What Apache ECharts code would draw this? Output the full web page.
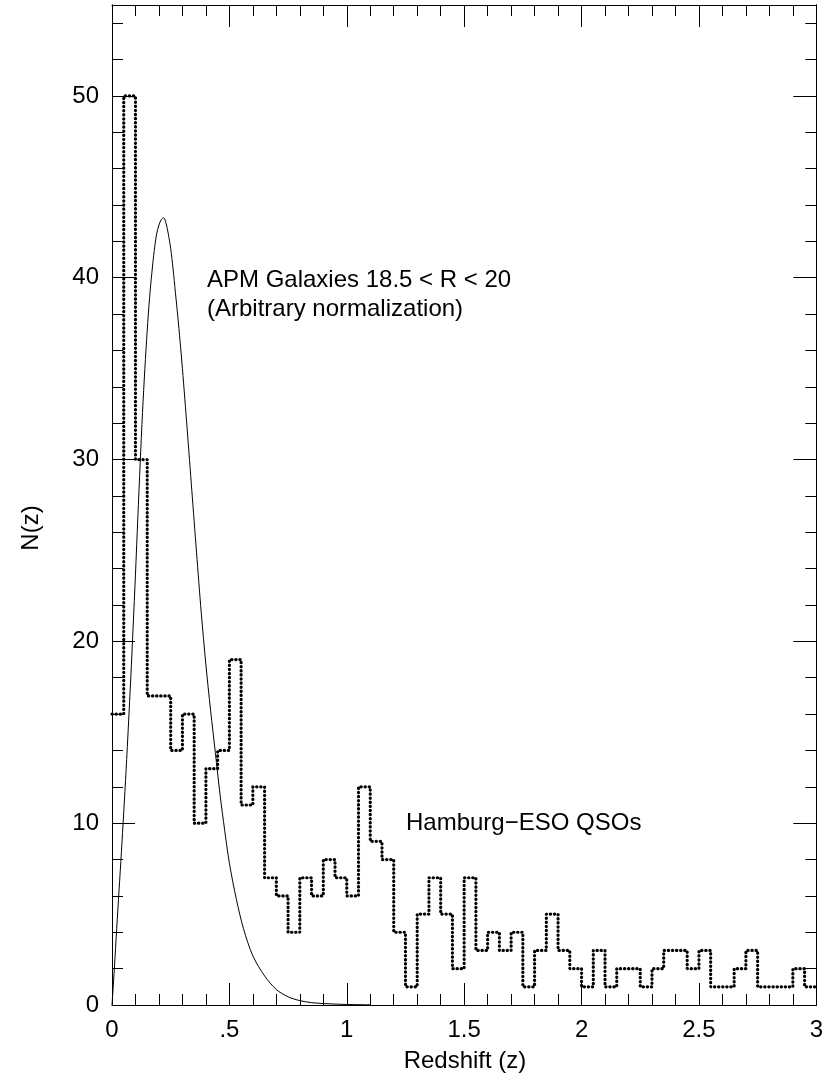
<!DOCTYPE html>
<html>
<head>
<meta charset="utf-8">
<script src="https://cdn.jsdelivr.net/npm/echarts/dist/echarts.min.js"></script>
<style>
html, body { margin: 0; padding: 0; background: #fff; }
#chart { width: 826px; height: 1082px; }
</style>
</head>
<body>
<div id="chart"></div>
<script>
// Hamburg-ESO QSOs, counts per redshift bin of 0.05 starting at z = 0
var binWidth = 0.05
var qsoCounts = [
  16, 50, 30, 17, 17, 14, 16, 10, 13, 14,
  19, 11, 12, 7, 6, 4, 7, 6, 8, 7,
  6, 12, 9, 8, 4, 1, 5, 7, 5, 2,
  7, 3, 4, 3, 4, 1, 3, 5, 3, 2,
  1, 3, 1, 2, 2, 1, 2, 3, 3, 2,
  3, 1, 1, 2, 3, 1, 1, 1, 2, 1
]
// APM galaxies 18.5 < R < 20
var apmZ = [
  0, 0.01, 0.02, 0.03, 0.04, 0.05, 0.06, 0.07, 0.08, 0.09,
  0.1, 0.11, 0.12, 0.13, 0.14, 0.15, 0.16, 0.17, 0.18, 0.19,
  0.2, 0.21, 0.22, 0.23, 0.24, 0.25, 0.26, 0.27, 0.28, 0.29,
  0.3, 0.32, 0.34, 0.36, 0.38, 0.4, 0.42, 0.44, 0.46, 0.48,
  0.5, 0.53, 0.56, 0.6, 0.65, 0.7, 0.75, 0.8, 0.85, 0.9,
  1.0, 1.1
]
var apmN = [
  0, 2.0, 4.2, 6.3, 8.4, 10.6, 12.9, 15.4, 18.0, 20.8,
  23.7, 26.8, 29.8, 32.6, 35.0, 37.1, 38.9, 40.3, 41.5, 42.4,
  42.9, 43.2, 43.3, 43.0, 42.4, 41.6, 40.5, 39.2, 37.9, 36.5,
  35.0, 31.7, 28.3, 24.9, 21.6, 18.7, 16.2, 13.9, 11.6, 9.6,
  7.8, 5.8, 4.2, 2.7, 1.6, 0.85, 0.45, 0.24, 0.13, 0.08,
  0.03, 0.01
]
var xTickLabels = ['0', '.5', '1', '1.5', '2', '2.5', '3']
var yTickLabels = ['0', '10', '20', '30', '40', '50']

var black = '#000'
var font = '"Liberation Sans", Arial, Helvetica, sans-serif'

var qsoData = qsoCounts.map(function (n, i) { return [i * binWidth, n] })
qsoData.push([qsoCounts.length * binWidth, qsoCounts[qsoCounts.length - 1]])
var apmData = apmZ.map(function (z, i) { return [z, apmN[i]] })

function xAxisFor(position, showLabels) {
  return {
    type: 'value', min: 0, max: 3, interval: 0.5, position: position,
    axisLine: { show: true, onZero: false, lineStyle: { color: black, width: 1 } },
    axisTick: { show: true, inside: true, length: 22, lineStyle: { color: black } },
    minorTick: { show: true, splitNumber: 5, length: 11, lineStyle: { color: black } },
    axisLabel: {
      show: showLabels, margin: 13, fontSize: 24, fontFamily: font, color: black,
      formatter: function (v) { return xTickLabels[Math.round(v / 0.5)] }
    },
    splitLine: { show: false }
  }
}

function yAxisFor(position, interval, tickLen, showLabels) {
  return {
    type: 'value', min: 0, max: 55, interval: interval, position: position,
    axisLine: { show: true, onZero: false, lineStyle: { color: black, width: 1 } },
    axisTick: { show: true, inside: true, length: tickLen, lineStyle: { color: black } },
    axisLabel: {
      show: showLabels, showMaxLabel: false, margin: 13, fontSize: 24, fontFamily: font, color: black,
      formatter: function (v) { return yTickLabels[Math.round(v / 10)] }
    },
    splitLine: { show: false }
  }
}

var myChart = echarts.init(document.getElementById('chart'))
myChart.setOption({
  animation: false,
  backgroundColor: '#fff',
  grid: { left: 112, right: 9, top: 5, bottom: 77 },
  xAxis: [xAxisFor('bottom', true), xAxisFor('top', false)],
  yAxis: [
    yAxisFor('left', 10, 23, true),
    yAxisFor('left', 2, 11, false),
    yAxisFor('right', 10, 23, false),
    yAxisFor('right', 2, 11, false)
  ],
  graphic: [
    { type: 'text', x: 207, y: 280, style: { text: 'APM Galaxies 18.5 < R < 20', font: '24px ' + font, fill: black, verticalAlign: 'middle' } },
    { type: 'text', x: 207, y: 309, style: { text: '(Arbitrary normalization)', font: '24px ' + font, fill: black, verticalAlign: 'middle' } },
    { type: 'text', x: 406, y: 823, style: { text: 'Hamburg\u2212ESO QSOs', font: '24px ' + font, fill: black, verticalAlign: 'middle' } },
    { type: 'text', x: 465, y: 1061, style: { text: 'Redshift (z)', font: '24px ' + font, fill: black, align: 'center', verticalAlign: 'middle' } },
    { type: 'text', x: 31, y: 528, rotation: Math.PI / 2, style: { text: 'N(z)', font: '24px ' + font, fill: black, align: 'center', verticalAlign: 'middle' } }
  ],
  series: [
    {
      name: 'Hamburg-ESO QSOs', type: 'line', step: 'end', data: qsoData,
      symbol: 'none', xAxisIndex: 0, yAxisIndex: 0,
      lineStyle: { color: black, width: 3.2, type: [0.3, 3.8], cap: 'round' }
    },
    {
      name: 'APM Galaxies', type: 'line', smooth: 0.3, data: apmData,
      symbol: 'none', xAxisIndex: 0, yAxisIndex: 0,
      lineStyle: { color: black, width: 1 }
    }
  ]
})
</script>
</body>
</html>
